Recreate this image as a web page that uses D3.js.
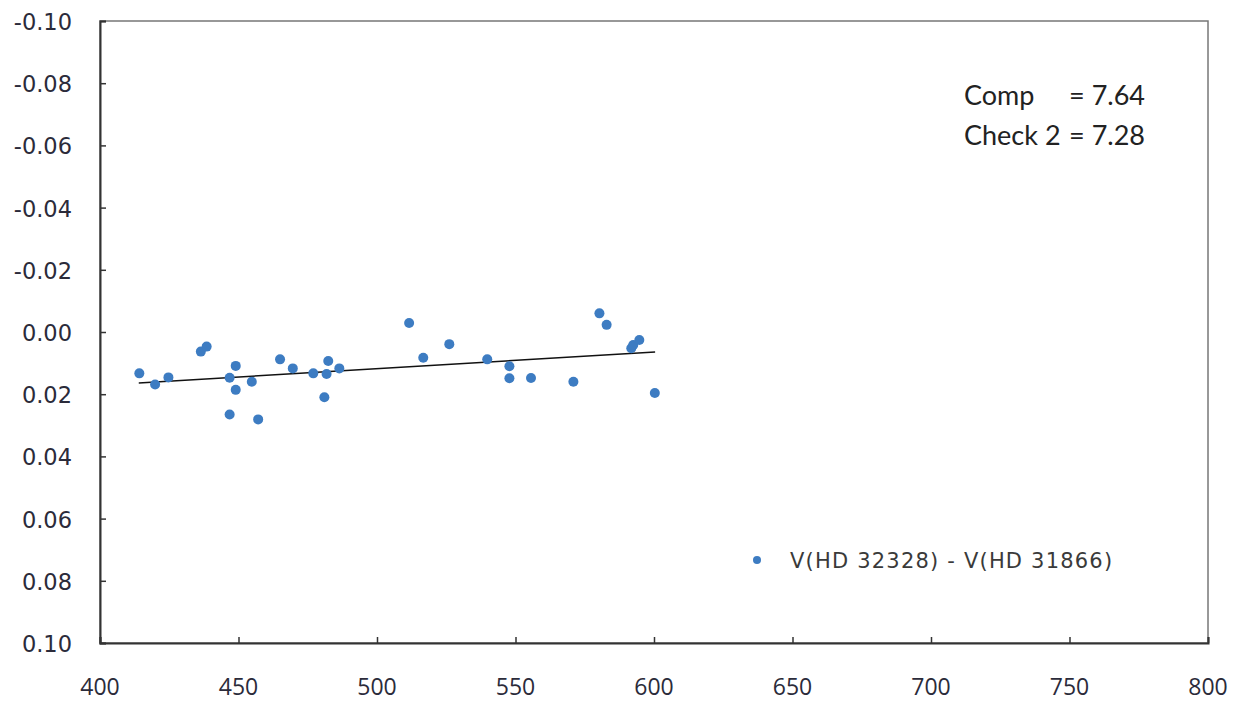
<!DOCTYPE html>
<html>
    <head>
        <meta charset="utf-8" />
        <script src="https://d3js.org/d3.v7.min.js"></script>
        <style>
            body { margin: 0; background: #fff; }
        </style>
    </head>
    <body>
        <svg width="1233" height="701"></svg>
        <script>
            // measured points: wavelength vs differential magnitude
            const waveX = [414.2, 419.9, 424.7, 436.4, 438.5, 446.8, 446.8, 449.0, 449.0, 454.8,
                457.1, 465.0, 469.6, 477.0, 481.0, 481.8, 482.4, 486.4, 511.6, 516.7,
                526.1, 539.8, 547.8, 547.8, 555.6, 570.9, 580.3, 582.9, 591.8, 592.5,
                594.7, 600.3]
            const diffY = [0.0133, 0.0169, 0.0146, 0.0063, 0.0047, 0.0147, 0.0265, 0.0109, 0.0186, 0.016,
                0.0281, 0.0088, 0.0117, 0.0133, 0.021, 0.0135, 0.0093, 0.0117, -0.0029, 0.0083,
                0.0039, 0.0088, 0.011, 0.0149, 0.0148, 0.016, -0.006, -0.0023, 0.0052, 0.0042,
                0.0026, 0.0196]
            const trendX = [414, 600.4]
            const trendY = [0.0164, 0.0064]
            const xTicks = [400, 450, 500, 550, 600, 650, 700, 750, 800]
            const yTicks = [-0.1, -0.08, -0.06, -0.04, -0.02, 0, 0.02, 0.04, 0.06, 0.08, 0.1]
            const legendLabel = 'V(HD 32328) - V(HD 31866)'
            const noteNames = ['Comp', 'Check 2']
            const noteValues = ['= 7.64', '= 7.28']

            const svg = d3.select('svg')
            const x = d3.scaleLinear().domain([400, 800]).range([100, 1208])
            const y = d3.scaleLinear().domain([-0.1, 0.1]).range([21, 643])
            const dotColor = '#3d7cc2'

            // frame
            svg.append('rect')
                .attr('x', 100).attr('y', 21)
                .attr('width', 1108).attr('height', 622)
                .style('fill', 'none')
                .style('stroke', '#777')
                .style('stroke-width', 1.5)

            const yAxis = svg.append('g')
                .attr('transform', 'translate(100,0)')
                .call(d3.axisRight(y).tickValues(yTicks).tickSize(6).tickFormat(''))
            yAxis.select('.domain').style('stroke', '#333').style('stroke-width', 2)
            yAxis.selectAll('.tick line').style('stroke', '#333').style('stroke-width', 1.5)

            const xAxis = svg.append('g')
                .attr('transform', 'translate(0,643)')
                .call(d3.axisTop(x).tickValues(xTicks).tickSize(6).tickFormat(''))
            xAxis.select('.domain').style('stroke', '#333').style('stroke-width', 2)
            xAxis.selectAll('.tick line').style('stroke', '#333').style('stroke-width', 1.5)

            svg.selectAll('.ylab')
                .data(yTicks)
                .enter()
                .append('text')
                .attr('class', 'ylab')
                .attr('x', 72)
                .attr('y', (d) => y(d) + 9)
                .attr('text-anchor', 'end')
                .style('font-family', 'DejaVu Sans')
                .style('font-size', '22.5px')
                .style('fill', '#2b2b3a')
                .text((d) => d3.format('.2f')(d).replace('−', '-'))

            svg.selectAll('.xlab')
                .data(xTicks)
                .enter()
                .append('text')
                .attr('class', 'xlab')
                .attr('x', (d) => x(d))
                .attr('y', 695)
                .attr('text-anchor', 'middle')
                .style('font-family', 'Open Sans')
                .style('font-size', '23px')
                .style('fill', '#2b2b3a')
                .text((d) => d)

            // fitted line
            svg.append('line')
                .attr('x1', x(trendX[0])).attr('y1', y(trendY[0]))
                .attr('x2', x(trendX[1])).attr('y2', y(trendY[1]))
                .style('stroke', '#111')
                .style('stroke-width', 1.5)

            svg.selectAll('circle.pt')
                .data(waveX)
                .enter()
                .append('circle')
                .attr('class', 'pt')
                .attr('cx', (d) => x(d))
                .attr('cy', (d, i) => y(diffY[i]))
                .attr('r', 5)
                .style('fill', dotColor)

            // legend
            svg.append('circle')
                .attr('cx', 757).attr('cy', 560).attr('r', 4)
                .style('fill', dotColor)
            svg.append('text')
                .attr('x', 790).attr('y', 568)
                .style('font-family', 'DejaVu Sans')
                .style('font-size', '21px')
                .style('letter-spacing', '1.2px')
                .style('fill', '#3a3a3a')
                .text(legendLabel)

            // comparison-star note: names left, values right-aligned
            noteNames.forEach((n, i) => {
                const g = svg.append('g').style('font-family', 'Lato').style('font-size', '27px').style('fill', '#222')
                g.append('text').attr('x', 964).attr('y', 105 + i * 40).text(n)
                g.append('text').attr('x', 1145).attr('y', 105 + i * 40)
                    .attr('text-anchor', 'end').text(noteValues[i])
            })
        </script>
    </body>
</html>
